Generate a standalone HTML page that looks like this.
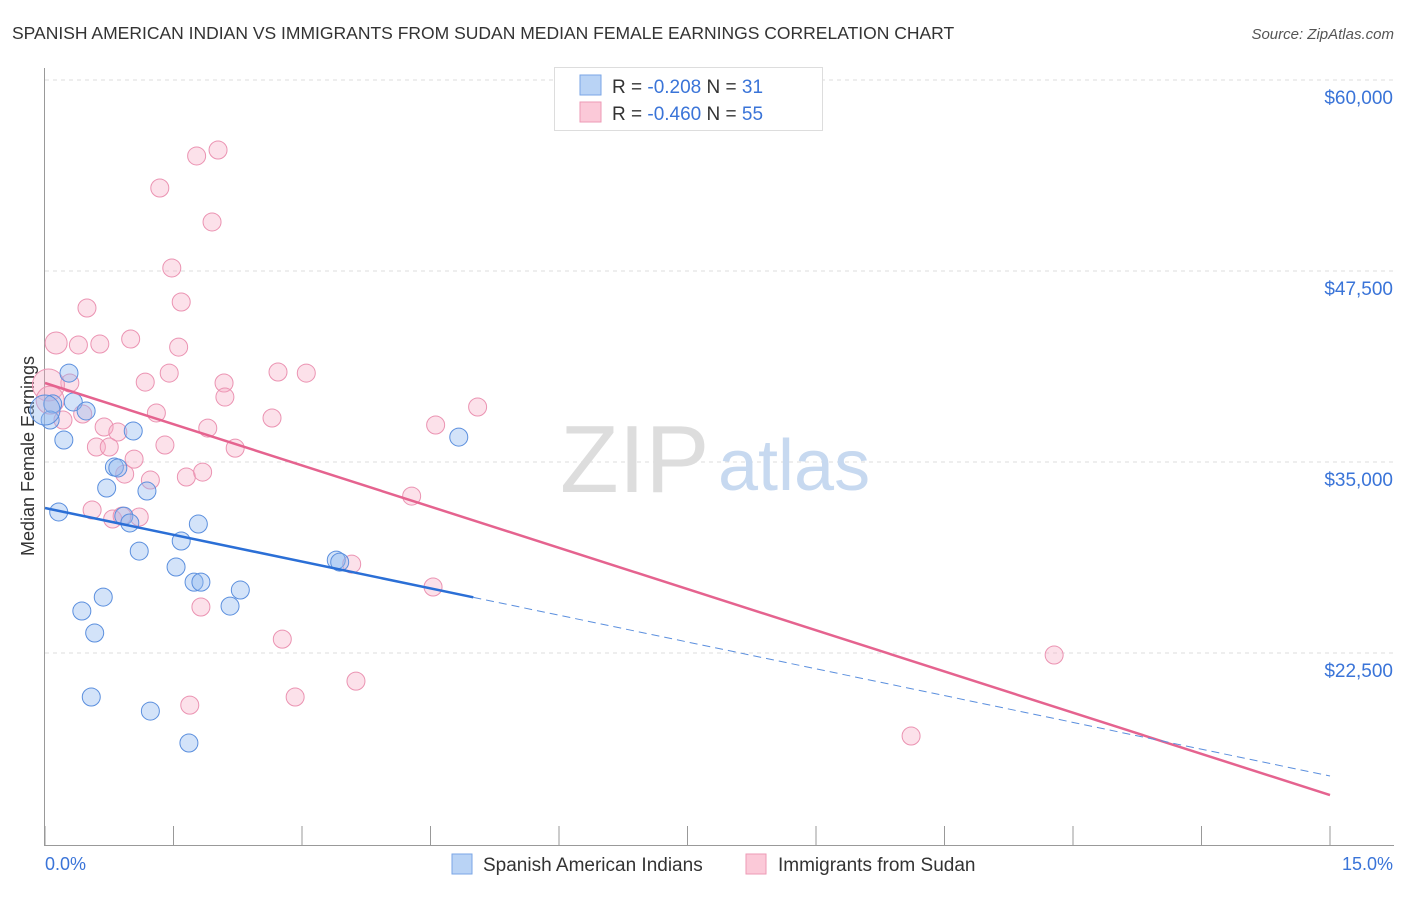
<!DOCTYPE html>
<html><head><meta charset="utf-8"><style>
body{margin:0;background:#fff;font-family:"Liberation Sans",sans-serif;}
svg text{font-family:"Liberation Sans",sans-serif;}
</style></head><body>
<svg id="chart" width="1406" height="892" viewBox="0 0 1406 892" xmlns="http://www.w3.org/2000/svg">
<text x="12" y="39" font-size="17.5" fill="#333">SPANISH AMERICAN INDIAN VS IMMIGRANTS FROM SUDAN MEDIAN FEMALE EARNINGS CORRELATION CHART</text>
<text x="1394" y="39" font-size="15" fill="#555" font-style="italic" text-anchor="end">Source: ZipAtlas.com</text>
<g id="grid"></g>
<g id="yticks"></g>
<text x="560" y="492" font-size="96" fill="#ddd" font-family="Liberation Serif">ZIP</text>
<text x="718" y="490" font-size="72" fill="#c7d9f0">atlas</text>
<line x1="44.5" y1="68" x2="44.5" y2="845" stroke="#999" stroke-width="1"/>
<line x1="44" y1="845.5" x2="1394" y2="845.5" stroke="#999" stroke-width="1"/>
<g id="xticks"></g>
<text x="45" y="870" font-size="18" fill="#3a74d8">0.0%</text>
<text x="1393" y="870" font-size="18" fill="#3a74d8" text-anchor="end">15.0%</text>
<text transform="translate(34,456) rotate(-90)" font-size="18" fill="#333" text-anchor="middle">Median Female Earnings</text>
<g id="pinkpts"></g>
<g id="bluepts"></g>
<g id="trends"></g>
<g>
<rect x="554.5" y="67.5" width="268" height="63" fill="#fff" stroke="#ddd"/>
<rect x="580" y="75" width="21" height="20" fill="#b9d3f5" stroke="#7aa6e6"/>
<rect x="580" y="102" width="21" height="20" fill="#fbc9d8" stroke="#ee9ab6"/>
<text x="612" y="93" font-size="19" fill="#333">R = <tspan fill="#3a74d8">-0.208</tspan>   N = <tspan fill="#3a74d8"> 31</tspan></text>
<text x="612" y="120" font-size="19" fill="#333">R = <tspan fill="#3a74d8">-0.460</tspan>   N = <tspan fill="#3a74d8">55</tspan></text>
</g>
<g>
<rect x="452" y="854" width="20" height="20" fill="#b9d3f5" stroke="#7aa6e6"/>
<text x="483" y="871" font-size="19" fill="#333">Spanish American Indians</text>
<rect x="746" y="854" width="20" height="20" fill="#fbc9d8" stroke="#ee9ab6"/>
<text x="778" y="871" font-size="19" fill="#333">Immigrants from Sudan</text>
</g>
</svg>
<script>
const yTickValues=[60000,47500,35000,22500];
const yTickLabels=["$60,000","$47,500","$35,000","$22,500"];
const xTickValues=[0,1.5,3,4.5,6,7.5,9,10.5,12,13.5,15];
const pinkX=[1.77,2.02,1.34,1.95,1.48,1.59,0.49,0.13,0.39,0.64,1.00,1.56,1.17,1.45,2.09,2.72,3.05,0.29,0.44,1.30,2.10,2.65,1.90,4.56,5.05,0.69,0.85,0.21,0.60,0.75,1.40,2.22,1.04,0.93,1.23,1.65,1.84,4.28,0.55,0.79,1.10,0.90,3.58,4.53,1.82,2.77,11.78,3.63,2.92,1.69,10.11,0.04,0.06];
const pinkY=[55030,55420,52930,50710,47700,45470,45080,42790,42660,42720,43050,42520,40230,40820,40170,40890,40820,40170,38140,38210,39250,37880,37220,37420,38600,37290,36960,37750,35980,35980,36110,35910,35190,34210,33820,34020,34340,32770,31860,31270,31400,31460,28320,26820,25510,23410,22370,20660,19620,19090,17070,40040,39050];
const pinkSize=[9,9,9,9,9,9,9,11,9,9,9,9,9,9,9,9,9,9,9,9,9,9,9,9,9,9,9,9,9,9,9,9,9,9,9,9,9,9,9,9,9,9,9,9,9,9,9,9,9,9,9,16,14];
const blueX=[0.28,0.33,0.48,0.09,0.06,0.22,0.81,0.85,1.03,0.72,1.19,0.16,0.92,0.99,1.79,1.59,1.10,1.53,3.40,3.44,1.74,1.82,2.28,0.68,0.43,2.16,0.58,0.54,1.23,1.68,4.83,0.0];
const blueY=[40820,38930,38340,38800,37750,36440,34670,34610,37030,33300,33100,31730,31460,31010,30940,29830,29170,28130,28580,28450,27140,27140,26620,26160,25250,25570,23810,19620,18700,16610,36630,38400];
const blueSize=[9,9,9,9,9,9,9,9,9,9,9,9,9,9,9,9,9,9,9,9,9,9,9,9,9,9,9,9,9,9,9,15];
const pinkTrend=[40170,13200];
const blueTrend=[31990,14450];
const blueSolidEnd=5.0;
const NS="http://www.w3.org/2000/svg";
function xs(v){return 45+v*(1330-45)/15;}
function ys(v){return 80+(60000-v)*191/12500;}
function mk(tag,attrs,parent){const e=document.createElementNS(NS,tag);for(const k in attrs)e.setAttribute(k,attrs[k]);parent.appendChild(e);return e;}
const grid=document.getElementById('grid'),yt=document.getElementById('yticks'),xt=document.getElementById('xticks');
yTickValues.forEach((v,i)=>{
 const l=mk('line',{x1:45,x2:1394,y1:ys(v),y2:ys(v),stroke:'#ddd','stroke-dasharray':'4,4'},grid);
 
 
 const t=mk('text',{x:1393,y:ys(v)+24,'font-size':19,fill:'#3a74d8','text-anchor':'end'},yt);
 t.textContent=yTickLabels[i];
 
 
});
xTickValues.forEach(v=>{
 const l=mk('line',{x1:xs(v),x2:xs(v),y1:826,y2:845,stroke:'#999'},xt);
 
 
});
const pg=document.getElementById('pinkpts');
pinkX.forEach((x,i)=>{
 const c=mk('circle',{cx:xs(x),cy:ys(pinkY[i]),r:pinkSize[i],fill:'rgba(246,168,196,0.35)',stroke:'#eb93b2','stroke-width':1},pg);
 
 
});
const bg=document.getElementById('bluepts');
blueX.forEach((x,i)=>{
 const c=mk('circle',{cx:xs(x),cy:ys(blueY[i]),r:blueSize[i],fill:'rgba(145,185,240,0.4)',stroke:'#5b8fde','stroke-width':1},bg);
 
 
});
const tg=document.getElementById('trends');
function trendY(tr,x){return tr[0]+(tr[1]-tr[0])*x/15;}
const pl=mk('line',{x1:xs(0),y1:ys(pinkTrend[0]),x2:xs(15),y2:ys(pinkTrend[1]),stroke:'#e5638f','stroke-width':2.5},tg);


const bl=mk('line',{x1:xs(0),y1:ys(blueTrend[0]),x2:xs(blueSolidEnd),y2:ys(trendY(blueTrend,blueSolidEnd)),stroke:'#2b6fd6','stroke-width':2.5},tg);


const bd=mk('line',{x1:xs(blueSolidEnd),y1:ys(trendY(blueTrend,blueSolidEnd)),x2:xs(15),y2:ys(blueTrend[1]),stroke:'#5b8fde','stroke-width':1,'stroke-dasharray':'8,5'},tg);


</script>
</body></html>
